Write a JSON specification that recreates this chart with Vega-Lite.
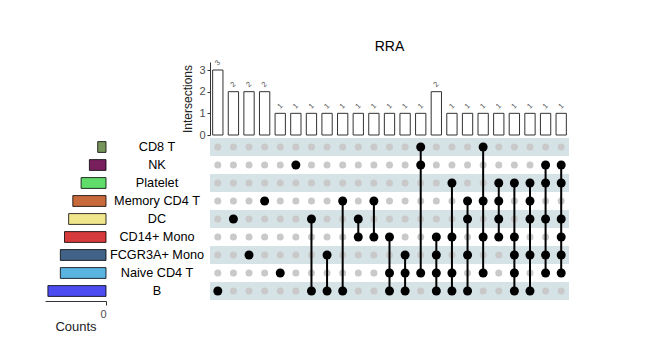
{
  "$schema": "https://vega.github.io/schema/vega-lite/v6.json",
  "padding": {"left": 45, "top": 39, "right": 5, "bottom": 5},
  "background": "white",
  "config": {"view": {"stroke": null}, "font": "Liberation Sans"},
  "datasets": {
    "inter": [
      {"c": 1, "n": 3, "CD8 T": 0, "NK": 0, "Platelet": 0, "Memory CD4 T": 0, "DC": 0, "CD14+ Mono": 0, "FCGR3A+ Mono": 0, "Naive CD4 T": 0, "B": 1},
      {"c": 2, "n": 2, "CD8 T": 0, "NK": 0, "Platelet": 0, "Memory CD4 T": 0, "DC": 1, "CD14+ Mono": 0, "FCGR3A+ Mono": 0, "Naive CD4 T": 0, "B": 0},
      {"c": 3, "n": 2, "CD8 T": 0, "NK": 0, "Platelet": 0, "Memory CD4 T": 0, "DC": 0, "CD14+ Mono": 0, "FCGR3A+ Mono": 1, "Naive CD4 T": 0, "B": 0},
      {"c": 4, "n": 2, "CD8 T": 0, "NK": 0, "Platelet": 0, "Memory CD4 T": 1, "DC": 0, "CD14+ Mono": 0, "FCGR3A+ Mono": 0, "Naive CD4 T": 0, "B": 0},
      {"c": 5, "n": 1, "CD8 T": 0, "NK": 0, "Platelet": 0, "Memory CD4 T": 0, "DC": 0, "CD14+ Mono": 0, "FCGR3A+ Mono": 0, "Naive CD4 T": 1, "B": 0},
      {"c": 6, "n": 1, "CD8 T": 0, "NK": 1, "Platelet": 0, "Memory CD4 T": 0, "DC": 0, "CD14+ Mono": 0, "FCGR3A+ Mono": 0, "Naive CD4 T": 0, "B": 0},
      {"c": 7, "n": 1, "CD8 T": 0, "NK": 0, "Platelet": 0, "Memory CD4 T": 0, "DC": 1, "CD14+ Mono": 0, "FCGR3A+ Mono": 0, "Naive CD4 T": 0, "B": 1},
      {"c": 8, "n": 1, "CD8 T": 0, "NK": 0, "Platelet": 0, "Memory CD4 T": 0, "DC": 0, "CD14+ Mono": 0, "FCGR3A+ Mono": 1, "Naive CD4 T": 0, "B": 1},
      {"c": 9, "n": 1, "CD8 T": 0, "NK": 0, "Platelet": 0, "Memory CD4 T": 1, "DC": 0, "CD14+ Mono": 0, "FCGR3A+ Mono": 0, "Naive CD4 T": 0, "B": 1},
      {"c": 10, "n": 1, "CD8 T": 0, "NK": 0, "Platelet": 0, "Memory CD4 T": 0, "DC": 1, "CD14+ Mono": 1, "FCGR3A+ Mono": 0, "Naive CD4 T": 0, "B": 0},
      {"c": 11, "n": 1, "CD8 T": 0, "NK": 0, "Platelet": 0, "Memory CD4 T": 1, "DC": 0, "CD14+ Mono": 1, "FCGR3A+ Mono": 0, "Naive CD4 T": 0, "B": 0},
      {"c": 12, "n": 1, "CD8 T": 0, "NK": 0, "Platelet": 0, "Memory CD4 T": 0, "DC": 0, "CD14+ Mono": 1, "FCGR3A+ Mono": 0, "Naive CD4 T": 1, "B": 1},
      {"c": 13, "n": 1, "CD8 T": 0, "NK": 0, "Platelet": 0, "Memory CD4 T": 0, "DC": 0, "CD14+ Mono": 0, "FCGR3A+ Mono": 1, "Naive CD4 T": 1, "B": 1},
      {"c": 14, "n": 1, "CD8 T": 1, "NK": 1, "Platelet": 0, "Memory CD4 T": 0, "DC": 0, "CD14+ Mono": 0, "FCGR3A+ Mono": 0, "Naive CD4 T": 1, "B": 0},
      {"c": 15, "n": 2, "CD8 T": 0, "NK": 0, "Platelet": 0, "Memory CD4 T": 0, "DC": 0, "CD14+ Mono": 1, "FCGR3A+ Mono": 1, "Naive CD4 T": 1, "B": 1},
      {"c": 16, "n": 1, "CD8 T": 0, "NK": 0, "Platelet": 1, "Memory CD4 T": 0, "DC": 0, "CD14+ Mono": 1, "FCGR3A+ Mono": 0, "Naive CD4 T": 1, "B": 1},
      {"c": 17, "n": 1, "CD8 T": 0, "NK": 0, "Platelet": 0, "Memory CD4 T": 1, "DC": 1, "CD14+ Mono": 0, "FCGR3A+ Mono": 1, "Naive CD4 T": 0, "B": 1},
      {"c": 18, "n": 1, "CD8 T": 1, "NK": 0, "Platelet": 0, "Memory CD4 T": 1, "DC": 0, "CD14+ Mono": 1, "FCGR3A+ Mono": 0, "Naive CD4 T": 1, "B": 0},
      {"c": 19, "n": 1, "CD8 T": 0, "NK": 0, "Platelet": 1, "Memory CD4 T": 1, "DC": 1, "CD14+ Mono": 1, "FCGR3A+ Mono": 0, "Naive CD4 T": 0, "B": 0},
      {"c": 20, "n": 1, "CD8 T": 0, "NK": 0, "Platelet": 1, "Memory CD4 T": 0, "DC": 0, "CD14+ Mono": 1, "FCGR3A+ Mono": 1, "Naive CD4 T": 1, "B": 1},
      {"c": 21, "n": 1, "CD8 T": 0, "NK": 0, "Platelet": 1, "Memory CD4 T": 1, "DC": 1, "CD14+ Mono": 0, "FCGR3A+ Mono": 1, "Naive CD4 T": 0, "B": 1},
      {"c": 22, "n": 1, "CD8 T": 0, "NK": 1, "Platelet": 1, "Memory CD4 T": 0, "DC": 1, "CD14+ Mono": 0, "FCGR3A+ Mono": 1, "Naive CD4 T": 1, "B": 0},
      {"c": 23, "n": 1, "CD8 T": 0, "NK": 1, "Platelet": 1, "Memory CD4 T": 0, "DC": 1, "CD14+ Mono": 1, "FCGR3A+ Mono": 1, "Naive CD4 T": 1, "B": 0}
    ],
    "sets": [
      {"set": "CD8 T", "size": 2},
      {"set": "NK", "size": 4},
      {"set": "Platelet", "size": 6},
      {"set": "Memory CD4 T", "size": 8},
      {"set": "DC", "size": 9},
      {"set": "CD14+ Mono", "size": 10},
      {"set": "FCGR3A+ Mono", "size": 11},
      {"set": "Naive CD4 T", "size": 11},
      {"set": "B", "size": 14}
    ]
  },
  "columns": 2,
  "spacing": {"row": 3, "column": 104},
  "bounds": "flush",
  "concat": [
    {
      "width": 61, "height": 73,
      "data": {"values": [{"a": 1}]},
      "mark": {"type": "point", "opacity": 0},
      "encoding": {}
    },
    {
      "width": 359, "height": 73,
      "title": {"text": "RRA", "fontSize": 14, "fontWeight": "normal", "offset": -6, "baseline": "alphabetic", "anchor": "middle", "frame": "group", "color": "#000"},
      "data": {"name": "inter"},
      "encoding": {
        "x": {"field": "c", "type": "ordinal", "scale": {"type": "band", "paddingInner": 0.34, "paddingOuter": 0.17}, "axis": null},
        "y": {"field": "n", "type": "quantitative", "scale": {"domain": [0, 3.37], "nice": false},
          "axis": {"values": [0, 1, 2, 3], "title": "Intersections", "titleFontSize": 12, "titleFontWeight": "normal", "titleColor": "#222", "labelFontSize": 11, "labelColor": "#4d4d4d", "tickSize": 3, "tickColor": "#333", "domainColor": "#333", "grid": false, "labelPadding": 2, "titlePadding": 4}}
      },
      "layer": [
        {"mark": {"type": "bar", "fill": "white", "stroke": "#333", "strokeWidth": 1}},
        {"mark": {"type": "text", "angle": 315, "fontSize": 7.5, "color": "#555", "yOffset": -7}, "encoding": {"text": {"field": "n", "type": "quantitative"}}}
      ]
    },
    {
      "width": 61, "height": 162,
      "data": {"name": "sets"},
      "encoding": {
        "y": {"field": "set", "type": "nominal", "scale": {"type": "band", "domain": ["CD8 T", "NK", "Platelet", "Memory CD4 T", "DC", "CD14+ Mono", "FCGR3A+ Mono", "Naive CD4 T", "B"], "paddingInner": 0.4, "paddingOuter": 0.2}, "axis": null}
      },
      "layer": [
        {
          "mark": {"type": "bar", "stroke": "#000", "strokeWidth": 0.8},
          "encoding": {
            "x": {"field": "size", "type": "quantitative", "scale": {"domain": [0, 14.7], "reverse": true, "nice": false},
              "axis": {"values": [0], "title": "Counts", "offset": 1, "domainColor": "#333", "tickColor": "#333", "tickSize": 4, "labelFontSize": 11, "labelColor": "#4d4d4d", "labelPadding": 3, "titleFontSize": 13, "titleFontWeight": "normal", "titleColor": "#222", "titlePadding": 1, "grid": false}},
            "color": {"field": "set", "type": "nominal", "legend": null,
              "scale": {"domain": ["CD8 T", "NK", "Platelet", "Memory CD4 T", "DC", "CD14+ Mono", "FCGR3A+ Mono", "Naive CD4 T", "B"],
                "range": ["#77955a", "#7a1f5e", "#5fdc6a", "#c96a3c", "#f0e68c", "#d63a3a", "#426387", "#5ab4e0", "#4c4cf0"]}}
          }
        },
        {
          "mark": {"type": "text", "dx": 51, "fontSize": 12.7, "align": "center", "baseline": "middle", "color": "#000"},
          "encoding": {"x": {"datum": 0, "type": "quantitative"}, "text": {"field": "set", "type": "nominal"}}
        }
      ]
    },
    {
      "width": 359, "height": 162,
      "layer": [
        {
          "data": {"name": "sets"},
          "transform": [{"filter": {"field": "set", "oneOf": ["CD8 T", "Platelet", "DC", "FCGR3A+ Mono", "B"]}}],
          "mark": {"type": "rect", "color": "#d5e2e6"},
          "encoding": {
            "y": {"field": "set", "type": "nominal", "scale": {"type": "band", "domain": ["CD8 T", "NK", "Platelet", "Memory CD4 T", "DC", "CD14+ Mono", "FCGR3A+ Mono", "Naive CD4 T", "B"], "paddingInner": 0, "paddingOuter": 0}, "axis": null}
          }
        },
        {
          "data": {"name": "inter"},
          "transform": [{"fold": ["CD8 T", "NK", "Platelet", "Memory CD4 T", "DC", "CD14+ Mono", "FCGR3A+ Mono", "Naive CD4 T", "B"], "as": ["set", "m"]}],
          "mark": {"type": "circle", "size": 49, "color": "#c9c9c9", "opacity": 1},
          "encoding": {
            "x": {"field": "c", "type": "ordinal", "scale": {"type": "point", "padding": 0.5}, "axis": null},
            "y": {"field": "set", "type": "nominal", "axis": null}
          }
        },
        {
          "data": {"name": "inter"},
          "transform": [{"fold": ["CD8 T", "NK", "Platelet", "Memory CD4 T", "DC", "CD14+ Mono", "FCGR3A+ Mono", "Naive CD4 T", "B"], "as": ["set", "m"]}, {"filter": "datum.m == 1"}],
          "mark": {"type": "line", "color": "#000", "strokeWidth": 2},
          "encoding": {
            "x": {"field": "c", "type": "ordinal", "axis": null},
            "y": {"field": "set", "type": "nominal", "axis": null},
            "detail": {"field": "c", "type": "ordinal"}
          }
        },
        {
          "data": {"name": "inter"},
          "transform": [{"fold": ["CD8 T", "NK", "Platelet", "Memory CD4 T", "DC", "CD14+ Mono", "FCGR3A+ Mono", "Naive CD4 T", "B"], "as": ["set", "m"]}, {"filter": "datum.m == 1"}],
          "mark": {"type": "circle", "size": 81, "color": "#000", "opacity": 1},
          "encoding": {
            "x": {"field": "c", "type": "ordinal", "axis": null},
            "y": {"field": "set", "type": "nominal", "axis": null}
          }
        }
      ]
    }
  ]
}
